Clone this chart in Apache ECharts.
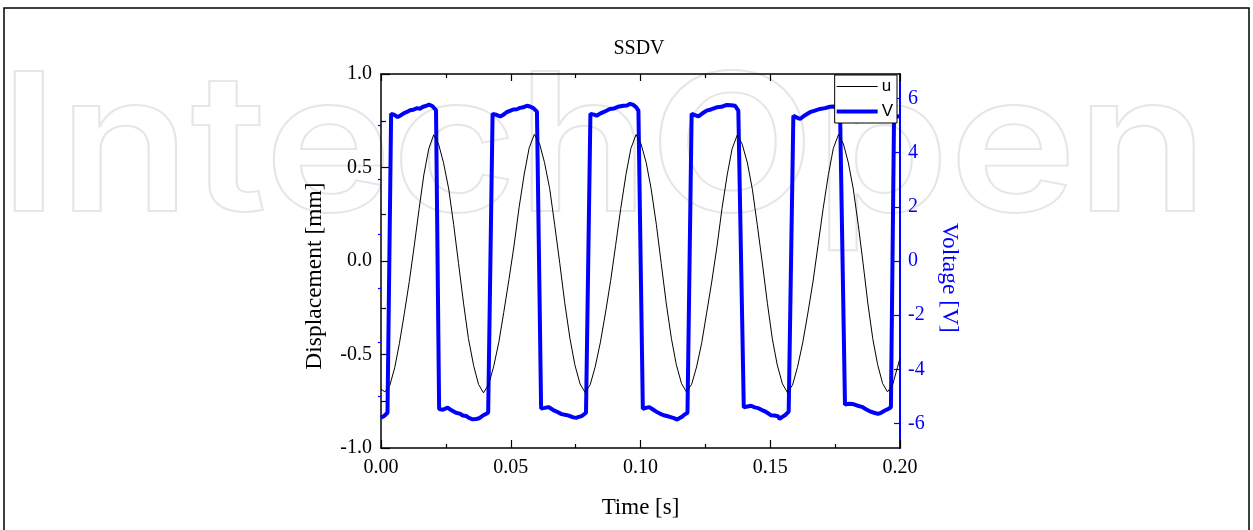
<!DOCTYPE html>
<html>
<head>
<meta charset="utf-8">
<script src="https://cdn.jsdelivr.net/npm/echarts@6/dist/echarts.min.js"></script>
<style>
html,body{margin:0;padding:0;background:#fff;}
#main{width:1253px;height:530px;}
</style>
</head>
<body>
<div id="main"></div>
<script>
// ---- data ----
const chartTitle = 'SSDV';
const xAxisName = 'Time [s]';
const yLeftName = 'Displacement [mm]';
const yRightName = 'Voltage [V]';
const seriesNames = ['u', 'V'];
const voltMajorTicks = [-6, -4, -2, 0, 2, 4, 6];
const voltMinorTicks = [-5, -3, -1, 1, 3, 5];

// displacement u [mm]
const timeU = [
  0.0000, 0.0015,
  0.0034, 0.0053, 0.0071, 0.0090, 0.0109, 0.0128, 0.0147, 0.0165, 0.0184, 0.0203,
  0.0222, 0.0241, 0.0261, 0.0280, 0.0299, 0.0318, 0.0337, 0.0357, 0.0376, 0.0395,
  0.0415, 0.0434, 0.0454, 0.0473, 0.0493, 0.0513, 0.0532, 0.0552, 0.0571, 0.0591,
  0.0611, 0.0630, 0.0650, 0.0669, 0.0689, 0.0708, 0.0728, 0.0747, 0.0767, 0.0786,
  0.0806, 0.0825, 0.0845, 0.0865, 0.0885, 0.0904, 0.0924, 0.0944, 0.0963, 0.0983,
  0.1002, 0.1022, 0.1041, 0.1061, 0.1080, 0.1099, 0.1119, 0.1138, 0.1158, 0.1177,
  0.1197, 0.1216, 0.1236, 0.1255, 0.1275, 0.1295, 0.1314, 0.1334, 0.1353, 0.1373,
  0.1392, 0.1412, 0.1431, 0.1450, 0.1470, 0.1489, 0.1508, 0.1527, 0.1547, 0.1566,
  0.1586, 0.1605, 0.1625, 0.1645, 0.1665, 0.1684, 0.1704, 0.1724, 0.1743, 0.1763,
  0.1782, 0.1801, 0.1820, 0.1839, 0.1858, 0.1876, 0.1895, 0.1914, 0.1933, 0.1952,
  0.1971, 0.1990, 0.2000
];
const dispU = [
  -0.685, -0.700,
  -0.665, -0.570, -0.440, -0.280, -0.110, 0.080, 0.280, 0.460, 0.600, 0.675,
  0.625, 0.525, 0.385, 0.195, -0.015, -0.225, -0.415, -0.560, -0.660, -0.705,
  -0.660, -0.565, -0.435, -0.275, -0.100, 0.085, 0.285, 0.465, 0.605, 0.677,
  0.627, 0.527, 0.387, 0.197, -0.013, -0.223, -0.413, -0.555, -0.657, -0.702,
  -0.662, -0.568, -0.438, -0.278, -0.105, 0.082, 0.282, 0.462, 0.602, 0.676,
  0.626, 0.526, 0.386, 0.196, -0.014, -0.224, -0.414, -0.554, -0.655, -0.700,
  -0.660, -0.567, -0.437, -0.277, -0.107, 0.080, 0.280, 0.460, 0.600, 0.674,
  0.624, 0.524, 0.384, 0.194, -0.016, -0.226, -0.416, -0.556, -0.657, -0.703,
  -0.663, -0.568, -0.438, -0.278, -0.108, 0.082, 0.282, 0.462, 0.602, 0.676,
  0.626, 0.525, 0.385, 0.195, -0.015, -0.225, -0.415, -0.555, -0.655, -0.700,
  -0.665, -0.570, -0.520
];

// voltage V [V]
const timeV = [
  0.0000, 0.0012, 0.0025,
  0.0039, 0.0050, 0.0064, 0.0077, 0.0089, 0.0100, 0.0112, 0.0125, 0.0139, 0.0150, 0.0162, 0.0173, 0.0185, 0.0197, 0.0212,
  0.0224, 0.0238, 0.0257, 0.0270, 0.0289, 0.0303, 0.0315, 0.0328, 0.0339, 0.0353, 0.0366, 0.0379, 0.0393, 0.0413,
  0.0430, 0.0443, 0.0459, 0.0472, 0.0484, 0.0497, 0.0510, 0.0523, 0.0536, 0.0548, 0.0562, 0.0574, 0.0587, 0.0601,
  0.0617, 0.0631, 0.0645, 0.0664, 0.0680, 0.0696, 0.0713, 0.0728, 0.0741, 0.0754, 0.0763, 0.0774, 0.0790,
  0.0807, 0.0821, 0.0831, 0.0844, 0.0859, 0.0882, 0.0898, 0.0913, 0.0934, 0.0948, 0.0960, 0.0972, 0.0983, 0.0992,
  0.1009, 0.1021, 0.1034, 0.1048, 0.1061, 0.1075, 0.1089, 0.1102, 0.1116, 0.1129, 0.1141, 0.1158, 0.1168, 0.1181,
  0.1197, 0.1210, 0.1223, 0.1239, 0.1255, 0.1274, 0.1294, 0.1312, 0.1332, 0.1349, 0.1364, 0.1377,
  0.1398, 0.1412, 0.1426, 0.1440, 0.1454, 0.1468, 0.1482, 0.1492, 0.1502, 0.1516, 0.1530, 0.1536, 0.1545, 0.1557, 0.1571,
  0.1589, 0.1601, 0.1615, 0.1634, 0.1653, 0.1672, 0.1692, 0.1711, 0.1730, 0.1746, 0.1757, 0.1769,
  0.1788, 0.1802, 0.1819, 0.1834, 0.1853, 0.1869, 0.1887, 0.1900, 0.1915, 0.1927, 0.1942, 0.1956, 0.1965,
  0.1977, 0.1990, 0.2000
];
const voltV = [
  -5.78, -5.72, -5.60,
  5.43, 5.40, 5.31, 5.38, 5.46, 5.50, 5.56, 5.58, 5.64, 5.62, 5.69, 5.72, 5.77, 5.72, 5.57,
  -5.46, -5.49, -5.41, -5.50, -5.60, -5.63, -5.70, -5.72, -5.79, -5.84, -5.83, -5.80, -5.70, -5.60,
  5.43, 5.40, 5.33, 5.40, 5.49, 5.54, 5.59, 5.60, 5.65, 5.67, 5.73, 5.70, 5.64, 5.51,
  -5.44, -5.42, -5.39, -5.50, -5.57, -5.65, -5.68, -5.72, -5.77, -5.78, -5.75, -5.72, -5.60,
  5.43, 5.40, 5.36, 5.44, 5.50, 5.61, 5.63, 5.69, 5.73, 5.74, 5.80, 5.76, 5.68, 5.55,
  -5.46, -5.42, -5.39, -5.48, -5.56, -5.63, -5.69, -5.72, -5.76, -5.80, -5.85, -5.76, -5.68, -5.60,
  5.43, 5.38, 5.34, 5.45, 5.55, 5.60, 5.67, 5.69, 5.76, 5.75, 5.73, 5.55,
  -5.40, -5.37, -5.34, -5.40, -5.43, -5.50, -5.56, -5.62, -5.69, -5.70, -5.73, -5.83, -5.76, -5.69, -5.56,
  5.36, 5.30, 5.24, 5.38, 5.49, 5.55, 5.61, 5.64, 5.69, 5.70, 5.62, 5.50,
  -5.30, -5.27, -5.28, -5.33, -5.38, -5.47, -5.56, -5.60, -5.64, -5.60, -5.52, -5.45, -5.40,
  5.31, 5.33, 5.34
];

// ---- chart ----
const serif = '"Liberation Serif", "Times New Roman", serif';
const blue = '#0000ff';
const uData = timeU.map((t, i) => [t, dispU[i]]);
const vData = timeV.map((t, i) => [t, voltV[i]]);

const chart = echarts.init(document.getElementById('main'), null, {renderer: 'canvas'});
chart.setOption({
  animation: false,
  backgroundColor: '#ffffff',
  title: {
    text: chartTitle,
    left: 634, top: 34,
    textAlign: 'center',
    textStyle: {fontFamily: serif, fontSize: 20, fontWeight: 'normal', color: '#000'}
  },
  graphic: [
    {
      type: 'text', z: -10, silent: true,
      x: -1, y: 57, scaleX: 1.056, scaleY: 0.94,
      style: {
        x: 0, y: 0,
        text: 'IntechOpen',
        font: '600 204px Inter',
        verticalAlign: 'top',
        fill: 'none',
        stroke: '#e6e6e6',
        lineWidth: 2
      }
    },
    {
      type: 'rect', z: -5, silent: true,
      shape: {x: 4, y: 8, width: 1245, height: 540},
      style: {fill: 'none', stroke: '#000', lineWidth: 1.5}
    }
  ],
  legend: {
    orient: 'vertical',
    right: 356, top: 75,
    backgroundColor: '#fff',
    borderColor: '#000', borderWidth: 1, borderRadius: 0,
    padding: [3, 4, 3, 2],
    itemWidth: 41, itemHeight: 14, itemGap: 8,
    symbolKeepAspect: true,
    textStyle: {fontFamily: '"Liberation Sans", Arial, sans-serif', fontSize: 17, color: '#000', padding: [0, 0, 0, -1]},
    data: [
      {name: seriesNames[0], icon: 'path://M0 0H41V1H0Z'},
      {name: seriesNames[1], icon: 'path://M0 0H41V4H0Z'}
    ]
  },
  grid: {left: 381, right: 353, top: 74, bottom: 82, containLabel: false},
  xAxis: [
    {
      type: 'value', position: 'bottom', min: 0, max: 0.2, interval: 0.05,
      name: xAxisName, nameLocation: 'middle', nameGap: 48,
      nameTextStyle: {fontFamily: serif, fontSize: 23, color: '#000'},
      axisLine: {onZero: false, lineStyle: {color: '#000', width: 1.5}},
      axisTick: {inside: true, length: 8, lineStyle: {color: '#000', width: 1.2}},
      minorTick: {show: true, splitNumber: 2, length: 4, lineStyle: {color: '#000', width: 1.2}},
      axisLabel: {margin: 10, fontFamily: serif, fontSize: 20, color: '#000', formatter: v => v.toFixed(2)},
      splitLine: {show: false}
    },
    {
      type: 'value', position: 'top', min: 0, max: 0.2, interval: 0.05,
      axisLine: {onZero: false, lineStyle: {color: '#000', width: 1.5}},
      axisTick: {inside: true, length: 7, lineStyle: {color: '#000', width: 1.2}},
      minorTick: {show: true, splitNumber: 2, length: 4, lineStyle: {color: '#000', width: 1.2}},
      axisLabel: {show: false},
      splitLine: {show: false}
    }
  ],
  yAxis: [
    {
      type: 'value', position: 'left', min: -1, max: 1, interval: 0.5,
      name: yLeftName, nameLocation: 'middle', nameGap: 54,
      nameTextStyle: {fontFamily: serif, fontSize: 23.5, color: '#000', padding: [0, 30, 0, 0]},
      axisLine: {onZero: false, lineStyle: {color: '#000', width: 1.5}},
      axisTick: {inside: true, length: 9, lineStyle: {color: '#000', width: 1.2}},
      minorTick: {show: true, splitNumber: 2, length: 5, lineStyle: {color: '#000', width: 1.2}},
      axisLabel: {margin: 9, fontFamily: serif, fontSize: 20, color: '#000', formatter: v => v.toFixed(1)},
      splitLine: {show: false}
    },
    {
      type: 'value', position: 'right', min: -6.9, max: 6.9,
      name: yRightName, nameLocation: 'middle', nameGap: 37, nameRotate: -90,
      nameTextStyle: {fontFamily: serif, fontSize: 23.5, color: blue, padding: [0, 0, 0, 34]},
      axisLine: {onZero: false, lineStyle: {color: blue, width: 2}},
      axisTick: {inside: true, length: 6, customValues: voltMajorTicks, lineStyle: {color: blue, width: 1.2}},
      axisLabel: {margin: 8, fontFamily: serif, fontSize: 20, color: blue, customValues: voltMajorTicks, formatter: v => String(v)},
      splitLine: {show: false}
    },
    {
      type: 'value', position: 'right', min: -6.9, max: 6.9,
      axisLine: {show: false},
      axisTick: {inside: true, length: 3, customValues: voltMinorTicks, lineStyle: {color: blue, width: 1.2}},
      axisLabel: {show: false},
      splitLine: {show: false}
    }
  ],
  series: [
    {
      name: seriesNames[0], type: 'line', xAxisIndex: 0, yAxisIndex: 0,
      data: uData, symbol: 'none', smooth: false,
      lineStyle: {color: '#000', width: 1}, itemStyle: {color: '#000'}, z: 3
    },
    {
      name: seriesNames[1], type: 'line', xAxisIndex: 0, yAxisIndex: 1,
      data: vData, symbol: 'none', smooth: false,
      lineStyle: {color: blue, width: 4}, itemStyle: {color: blue}, z: 2
    }
  ]
});
</script>
</body>
</html>
